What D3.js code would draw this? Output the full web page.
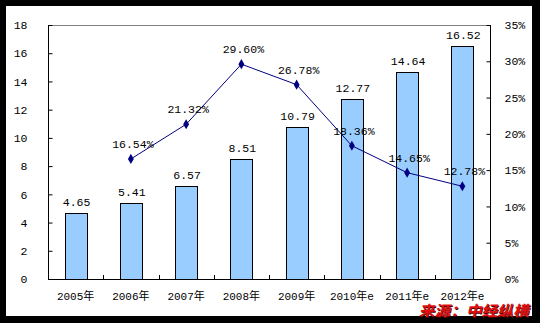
<!DOCTYPE html>
<html><head><meta charset="utf-8">
<script src="https://cdn.jsdelivr.net/npm/d3@7"></script>
<style>
html,body{margin:0;padding:0;background:#000;}
svg{display:block;}
</style></head>
<body>
<svg id="chart" width="540" height="323"></svg>
<script>
const categories = ["2005年","2006年","2007年","2008年","2009年","2010年e","2011年e","2012年e"];
const barValues = [4.65,5.41,6.57,8.51,10.79,12.77,14.64,16.52];
const growthValues = [null,16.54,21.32,29.60,26.78,18.36,14.65,12.78];
const leftTicks = [0,2,4,6,8,10,12,14,16,18];
const rightTicks = [0,5,10,15,20,25,30,35];
const sourceText = "来源：中经纵横";

const svg = d3.select("#chart");
const font = "'Liberation Mono','Noto Sans CJK SC',monospace";

svg.append("rect").attr("x",0).attr("y",0).attr("width",540).attr("height",323).attr("fill","#000");
svg.append("rect").attr("x",6).attr("y",6).attr("width",526).attr("height",310).attr("fill","#fff");

const L = 48, R = 490, T = 25, B = 279;
const x = d3.scaleBand().domain(categories).range([L,R]).paddingInner(0).paddingOuter(0);
const yL = d3.scaleLinear().domain([0,18]).range([B,T]);
const yR = d3.scaleLinear().domain([0,35]).range([B,T]);

svg.append("line").attr("x1",L).attr("x2",R).attr("y1",T+0.5).attr("y2",T+0.5).attr("stroke","#808080").attr("stroke-width",1);

const bw = 22;
svg.selectAll("rect.bar").data(barValues).enter().append("rect")
  .attr("class","bar")
  .attr("x",(d,i)=>Math.round(x(categories[i])+x.bandwidth()/2-bw/2)+0.5)
  .attr("y",d=>Math.round(yL(d))+0.5)
  .attr("width",bw)
  .attr("height",d=>B-Math.round(yL(d)))
  .attr("fill","#99CCFF").attr("stroke","#000").attr("stroke-width",1);

svg.selectAll("text.blab").data(barValues).enter().append("text")
  .attr("x",(d,i)=>x(categories[i])+x.bandwidth()/2+1)
  .attr("y",d=>yL(d)-7)
  .attr("text-anchor","middle")
  .attr("font-family",font).attr("font-size","11.5px").attr("fill","#000")
  .text(d=>d.toFixed(2));

const axL = d3.axisLeft(yL).tickValues(leftTicks).tickSize(-4).tickPadding(21).tickFormat(d=>d);
const gL = svg.append("g").attr("transform",`translate(${L+0.5},0)`).call(axL);
const axR = d3.axisRight(yR).tickValues(rightTicks).tickSize(-4).tickPadding(14).tickFormat(d=>d+"%");
const gR = svg.append("g").attr("transform",`translate(${R+0.5},0)`).call(axR);
const axB = d3.axisBottom(x).tickSize(0).tickPadding(13);
const gB = svg.append("g").attr("transform",`translate(0,${B+0.5})`).call(axB);
[gL,gR,gB].forEach(g=>{
  g.select(".domain").attr("stroke","#000");
  g.selectAll(".tick line").attr("stroke","#000");
  g.selectAll("text").attr("font-family",font).attr("font-size","11.5px").attr("fill","#000");
});
gB.selectAll("text").attr("font-size","11px");
gL.select(".domain").attr("d",`M0,${B}V${T}`);
gR.select(".domain").attr("d",`M0,${B}V${T}`);
gB.select(".domain").attr("d",`M${L},0H${R}`);
const sep = categories.slice(1).map(c=>x(c));
svg.selectAll("line.sep").data(sep).enter().append("line")
  .attr("x1",d=>Math.round(d)+0.5).attr("x2",d=>Math.round(d)+0.5)
  .attr("y1",B).attr("y2",B-4).attr("stroke","#000");

const pts = growthValues.map((v,i)=>({v,c:categories[i]})).filter(p=>p.v!==null);
const line = d3.line().x(p=>x(p.c)+x.bandwidth()/2).y(p=>yR(p.v));
svg.append("path").datum(pts).attr("d",line).attr("fill","none").attr("stroke","#000080").attr("stroke-width",1);
svg.selectAll("path.mk").data(pts).enter().append("path")
  .attr("d",d3.symbol().type(d3.symbolDiamond).size(30))
  .attr("transform",p=>`translate(${x(p.c)+x.bandwidth()/2},${yR(p.v)})`)
  .attr("fill","#000080");
svg.selectAll("text.glab").data(pts).enter().append("text")
  .attr("x",p=>x(p.c)+x.bandwidth()/2+2)
  .attr("y",p=>yR(p.v)-11)
  .attr("text-anchor","middle")
  .attr("font-family",font).attr("font-size","11.5px").attr("fill","#000")
  .text(p=>p.v.toFixed(2)+"%");

// source watermark with dark shadow
const src = svg.append("g").attr("transform","translate(419,316) skewX(-12)");
src.append("text").attr("x",1).attr("y",1)
  .attr("font-family","'Noto Sans CJK SC',sans-serif").attr("font-size","14.5px")
  .attr("font-weight","bold").attr("textLength",110).attr("lengthAdjust","spacingAndGlyphs")
  .attr("fill","#400000").text(sourceText);
src.append("text").attr("x",0).attr("y",0)
  .attr("font-family","'Noto Sans CJK SC',sans-serif").attr("font-size","14.5px")
  .attr("font-weight","bold").attr("textLength",110).attr("lengthAdjust","spacingAndGlyphs")
  .attr("fill","#e01010").text(sourceText);
</script>
</body></html>
